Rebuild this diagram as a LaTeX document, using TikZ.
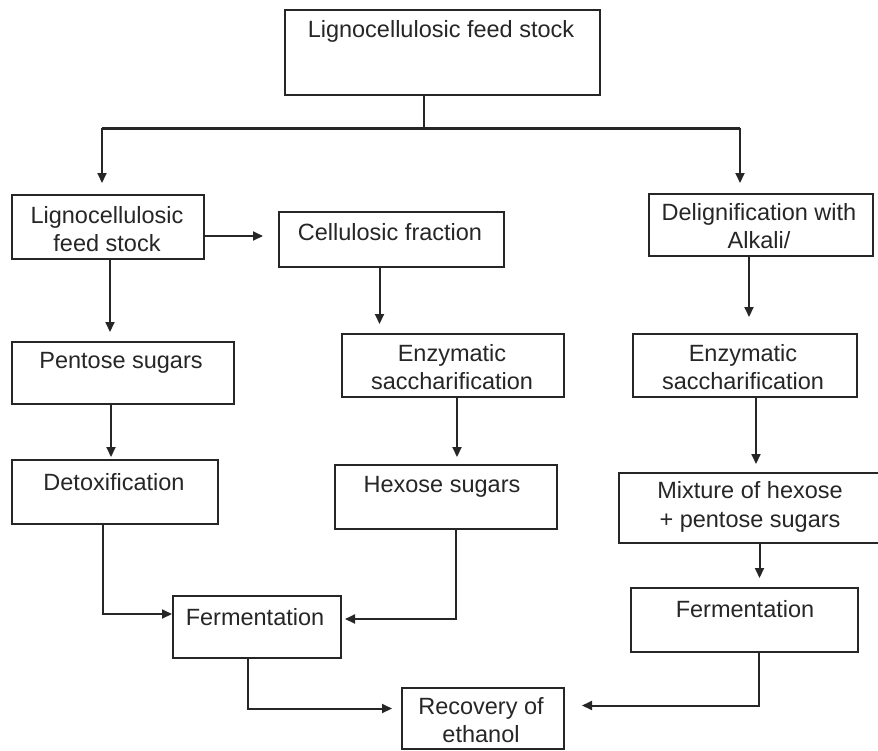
\documentclass[tikz,border=0pt]{standalone}
\usepackage{fontspec}
\setmainfont{Liberation Sans}
\usetikzlibrary{arrows.meta}
\begin{document}
\begin{tikzpicture}[x=1pt,y=-1pt,
  box/.style={draw=black!85, line width=2pt, fill=white, anchor=north west, inner sep=0pt},
  txt/.style={align=center, inner sep=0pt, font=\fontsize{23.5}{28.5}\selectfont, text=black!85},
  conn/.style={draw=black!85, line width=2pt},
  arr/.style={conn, -{Triangle[length=10pt,width=9pt]}}]
\useasboundingbox (0,0) rectangle (878,750);
% boxes
\node[box, minimum width=315pt, minimum height=85pt] (top) at (284,9) {};
\node[box, minimum width=192pt, minimum height=64pt] (lfs) at (11,194) {};
\node[box, minimum width=225pt, minimum height=55pt] (cell) at (278,211) {};
\node[box, minimum width=224pt, minimum height=62pt] (delig) at (648,193) {};
\node[box, minimum width=222pt, minimum height=62pt] (pent) at (11,341) {};
\node[box, minimum width=222pt, minimum height=63pt] (enzm) at (341,333) {};
\node[box, minimum width=224pt, minimum height=63pt] (enzr) at (632,333) {};
\node[box, minimum width=206pt, minimum height=64pt] (detox) at (11,459) {};
\node[box, minimum width=222pt, minimum height=64pt] (hex) at (334,464) {};
\node[box, minimum width=262pt, minimum height=70pt] (mix) at (618,472) {};
\node[box, minimum width=227pt, minimum height=64pt] (fermr) at (630,587) {};
\node[box, minimum width=168pt, minimum height=62pt] (ferml) at (172,595) {};
\node[box, minimum width=162pt, minimum height=61pt] (rec) at (401,687) {};
% texts
\node[txt] (t1) at (441,31) {Lignocellulosic feed stock};
\node[txt] (t2) at (107,229) {Lignocellulosic\\feed stock};
\node[txt] (t3) at (390,232) {Cellulosic fraction};
\node[txt] (t4) at (759,226) {Delignification with\\Alkali/};
\node[txt] (t5) at (121,363) {Pentose sugars};
\node[txt] (t6) at (452,367) {Enzymatic\\saccharification};
\node[txt] (t7) at (743,367) {Enzymatic\\saccharification};
\node[txt] (t8) at (114,482) {Detoxification};
\node[txt] (t9) at (442,487) {Hexose sugars};
\node[txt] (t10) at (750,507) {Mixture of hexose\\+ pentose sugars};
\node[txt] (t11) at (745,609) {Fermentation};
\node[txt] (t12) at (255,617) {Fermentation};
\node[txt] (t13) at (481,720) {Recovery of\\ethanol};
% connectors
\coordinate (split) at (424,128);
\coordinate (hl) at (102,128);
\coordinate (hr) at (740,128);
\draw[conn] (top.south -| split) -- (split);
\draw[conn, line width=3pt] (hl) -- (hr);
\draw[arr, shorten >=11pt] (hl) -- (hl |- lfs.north);
\draw[arr, shorten >=10pt] (hr) -- (hr |- delig.north);
\draw[arr, shorten >=15pt] ([yshift=-9pt]lfs.east) -- ([yshift=-9pt]lfs.east -| cell.west);
\draw[arr, shorten >=9pt] ([xshift=2pt]lfs.south) -- ([xshift=2pt]lfs.south |- pent.north);
\draw[arr, shorten >=9pt] ([xshift=-12pt]cell.south) -- ([xshift=-12pt]cell.south |- enzm.north);
\draw[arr, shorten >=16pt] ([xshift=-12pt]delig.south) -- ([xshift=-12pt]delig.south |- enzr.north);
\draw[arr, shorten >=2pt] ([xshift=-12pt]pent.south) -- ([xshift=-12pt]pent.south |- detox.north);
\draw[arr, shorten >=7pt] ([xshift=4pt]enzm.south) -- ([xshift=4pt]enzm.south |- hex.north);
\draw[arr, shorten >=8pt] ([xshift=11pt]enzr.south) -- ([xshift=11pt]enzr.south |- mix.north);
\draw[arr, shorten >=9pt] ([xshift=9.5pt]mix.south) -- ([xshift=9.5pt]mix.south |- fermr.north);
\draw[arr] ([xshift=-12pt]detox.south) |- ([yshift=13pt]ferml.west);
\draw[arr, shorten >=3pt] ([xshift=10pt]hex.south) |- ([yshift=8pt]ferml.east);
\draw[arr, shorten >=9pt] ([xshift=-9pt]ferml.south) |- ([yshift=10pt]rec.west);
\draw[arr, shorten >=17pt] ([xshift=14.5pt]fermr.south) |- ([yshift=13pt]rec.east);
\end{tikzpicture}
\end{document}
